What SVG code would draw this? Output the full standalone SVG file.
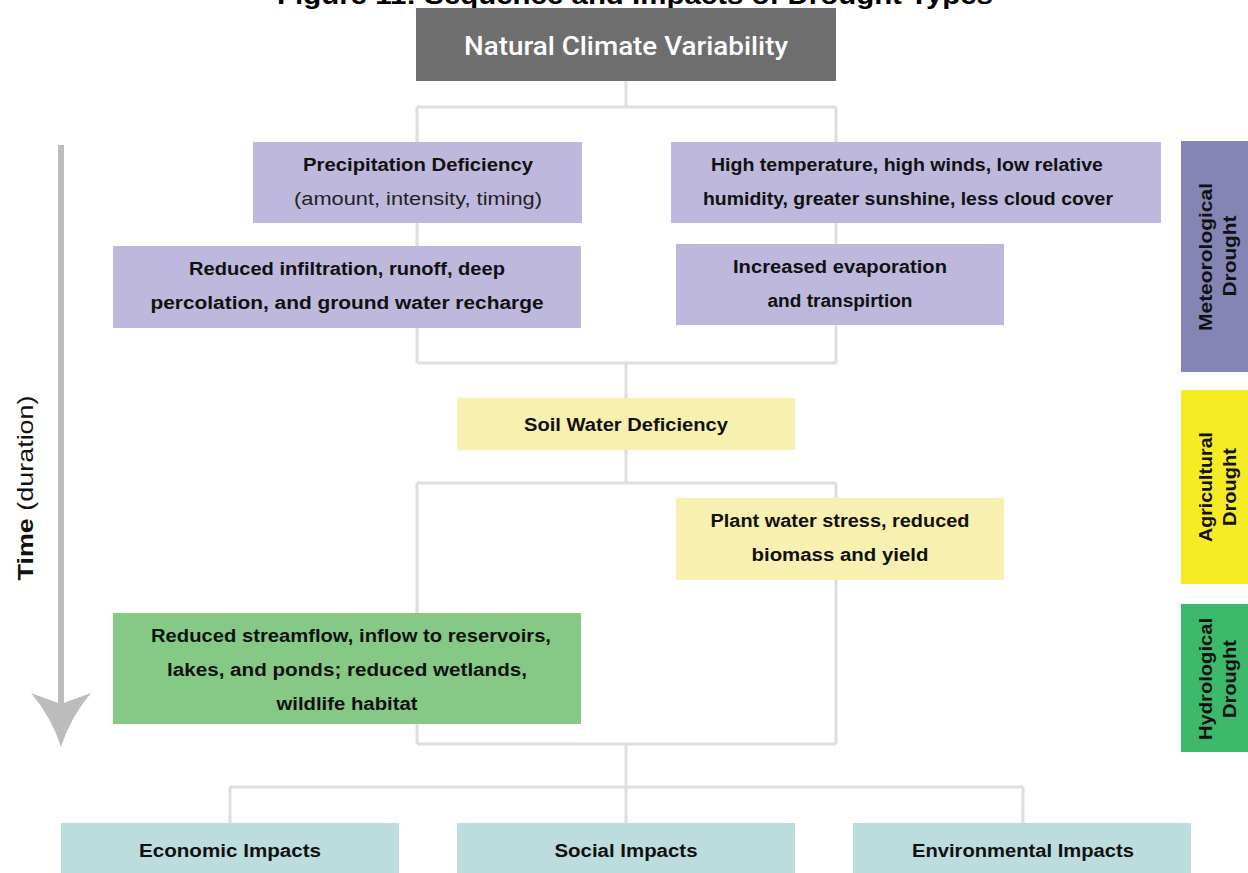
<svg xmlns="http://www.w3.org/2000/svg" width="1248" height="873" viewBox="0 0 1248 873">
<style>
.b{font-family:"Liberation Sans",Arial,sans-serif;font-weight:bold;font-size:18px;fill:#111;text-anchor:middle}
.r{font-family:"Liberation Sans",Arial,sans-serif;font-size:18px;fill:#222;text-anchor:middle}
.side{font-family:"Liberation Sans",Arial,sans-serif;font-weight:bold;font-size:18px;fill:#111;text-anchor:middle}
.con{fill:none;stroke:#dedede;stroke-width:3}
.pur{fill:#bdb8dc}
.yel{fill:#f7f0b0}
.grn{fill:#86c986}
.tea{fill:#bddcdd}
</style>
<rect width="1248" height="873" fill="#ffffff"/>
<text x="635" y="4" font-family="Liberation Sans,Arial,sans-serif" font-weight="bold" font-size="25" text-anchor="middle" fill="#000" textLength="716" lengthAdjust="spacingAndGlyphs">Figure 11: Sequence and Impacts of Drought Types</text>

<g id="connectors">
<path class="con" d="M626,81 V107 M417,107 H836 M417,107 V363 M836,107 V363 M417,363 H836 M626,363 V398"/>
<path class="con" d="M626,450 V483 M417,483 H836 M417,483 V744 M836,483 V744 M417,744 H836 M626,744 V823"/>
<path class="con" d="M230,787 H1023 M230,787 V823 M1023,787 V823"/>
</g>

<g id="time-arrow">
<line x1="61" y1="145" x2="61" y2="706" stroke="#bcbcbc" stroke-width="6"/>
<path d="M31,693 L61,704 L91,693 Q70,718 61,747 Q52,718 31,693 Z" fill="#bcbcbc"/>
<text transform="translate(33,488) rotate(-90)" font-family="Liberation Sans,Arial,sans-serif" font-size="22" text-anchor="middle" fill="#111" textLength="185" lengthAdjust="spacingAndGlyphs"><tspan font-weight="bold">Time</tspan> (duration)</text>
</g>

<g id="natural-climate">
<rect x="416" y="8" width="420" height="73" fill="#6d6e6d"/>
<text x="626" y="55" font-family="Roboto,Liberation Sans,Arial,sans-serif" font-weight="500" font-size="25" text-anchor="middle" fill="#fff" textLength="324" lengthAdjust="spacingAndGlyphs">Natural Climate Variability</text>
</g>

<g id="precip">
<rect class="pur" x="253" y="142" width="329" height="81"/>
<text class="b" x="418" y="171" textLength="230" lengthAdjust="spacingAndGlyphs">Precipitation Deficiency</text>
<text class="r" x="418" y="205" textLength="248" lengthAdjust="spacingAndGlyphs">(amount, intensity, timing)</text>
</g>

<g id="hightemp">
<rect class="pur" x="671" y="142" width="490" height="81"/>
<text class="b" x="907" y="171" textLength="392" lengthAdjust="spacingAndGlyphs">High temperature, high winds, low relative</text>
<text class="b" x="908" y="205" textLength="410" lengthAdjust="spacingAndGlyphs">humidity, greater sunshine, less cloud cover</text>
</g>

<g id="infiltration">
<rect class="pur" x="113" y="246" width="468" height="82"/>
<text class="b" x="347" y="275" textLength="316" lengthAdjust="spacingAndGlyphs">Reduced infiltration, runoff, deep</text>
<text class="b" x="347" y="309" textLength="393" lengthAdjust="spacingAndGlyphs">percolation, and ground water recharge</text>
</g>

<g id="evaporation">
<rect class="pur" x="676" y="244" width="328" height="81"/>
<text class="b" x="840" y="273" textLength="214" lengthAdjust="spacingAndGlyphs">Increased evaporation</text>
<text class="b" x="840" y="307" textLength="145" lengthAdjust="spacingAndGlyphs">and transpirtion</text>
</g>

<g id="soil">
<rect class="yel" x="457" y="398" width="338" height="52"/>
<text class="b" x="626" y="431" textLength="204" lengthAdjust="spacingAndGlyphs">Soil Water Deficiency</text>
</g>

<g id="plant">
<rect class="yel" x="676" y="498" width="328" height="82"/>
<text class="b" x="840" y="527" textLength="259" lengthAdjust="spacingAndGlyphs">Plant water stress, reduced</text>
<text class="b" x="840" y="561" textLength="177" lengthAdjust="spacingAndGlyphs">biomass and yield</text>
</g>

<g id="streamflow">
<rect class="grn" x="113" y="613" width="468" height="111"/>
<text class="b" x="351" y="642" textLength="400" lengthAdjust="spacingAndGlyphs">Reduced streamflow, inflow to reservoirs,</text>
<text class="b" x="347" y="676" textLength="360" lengthAdjust="spacingAndGlyphs">lakes, and ponds; reduced wetlands,</text>
<text class="b" x="347" y="710" textLength="141" lengthAdjust="spacingAndGlyphs">wildlife habitat</text>
</g>

<g id="economic">
<rect class="tea" x="61" y="823" width="338" height="55"/>
<text class="b" x="230" y="857" textLength="182" lengthAdjust="spacingAndGlyphs">Economic Impacts</text>
</g>
<g id="social">
<rect class="tea" x="457" y="823" width="338" height="55"/>
<text class="b" x="626" y="857" textLength="143" lengthAdjust="spacingAndGlyphs">Social Impacts</text>
</g>
<g id="environmental">
<rect class="tea" x="853" y="823" width="338" height="55"/>
<text class="b" x="1023" y="857" textLength="222" lengthAdjust="spacingAndGlyphs">Environmental Impacts</text>
</g>

<g id="meteorological">
<rect x="1181" y="141" width="67" height="231" fill="#8484b5"/>
<text class="side" transform="translate(1212,257) rotate(-90)" textLength="148" lengthAdjust="spacingAndGlyphs">Meteorological</text>
<text class="side" transform="translate(1236,256) rotate(-90)" textLength="81" lengthAdjust="spacingAndGlyphs">Drought</text>
</g>
<g id="agricultural">
<rect x="1181" y="390" width="67" height="194" fill="#f5ec24"/>
<text class="side" transform="translate(1212,487) rotate(-90)" textLength="110" lengthAdjust="spacingAndGlyphs">Agricultural</text>
<text class="side" transform="translate(1236,487) rotate(-90)" textLength="78" lengthAdjust="spacingAndGlyphs">Drought</text>
</g>
<g id="hydrological">
<rect x="1181" y="604" width="67" height="148" fill="#3cb96b"/>
<text class="side" transform="translate(1212,679) rotate(-90)" textLength="122" lengthAdjust="spacingAndGlyphs">Hydrological</text>
<text class="side" transform="translate(1236,679) rotate(-90)" textLength="78" lengthAdjust="spacingAndGlyphs">Drought</text>
</g>
</svg>
